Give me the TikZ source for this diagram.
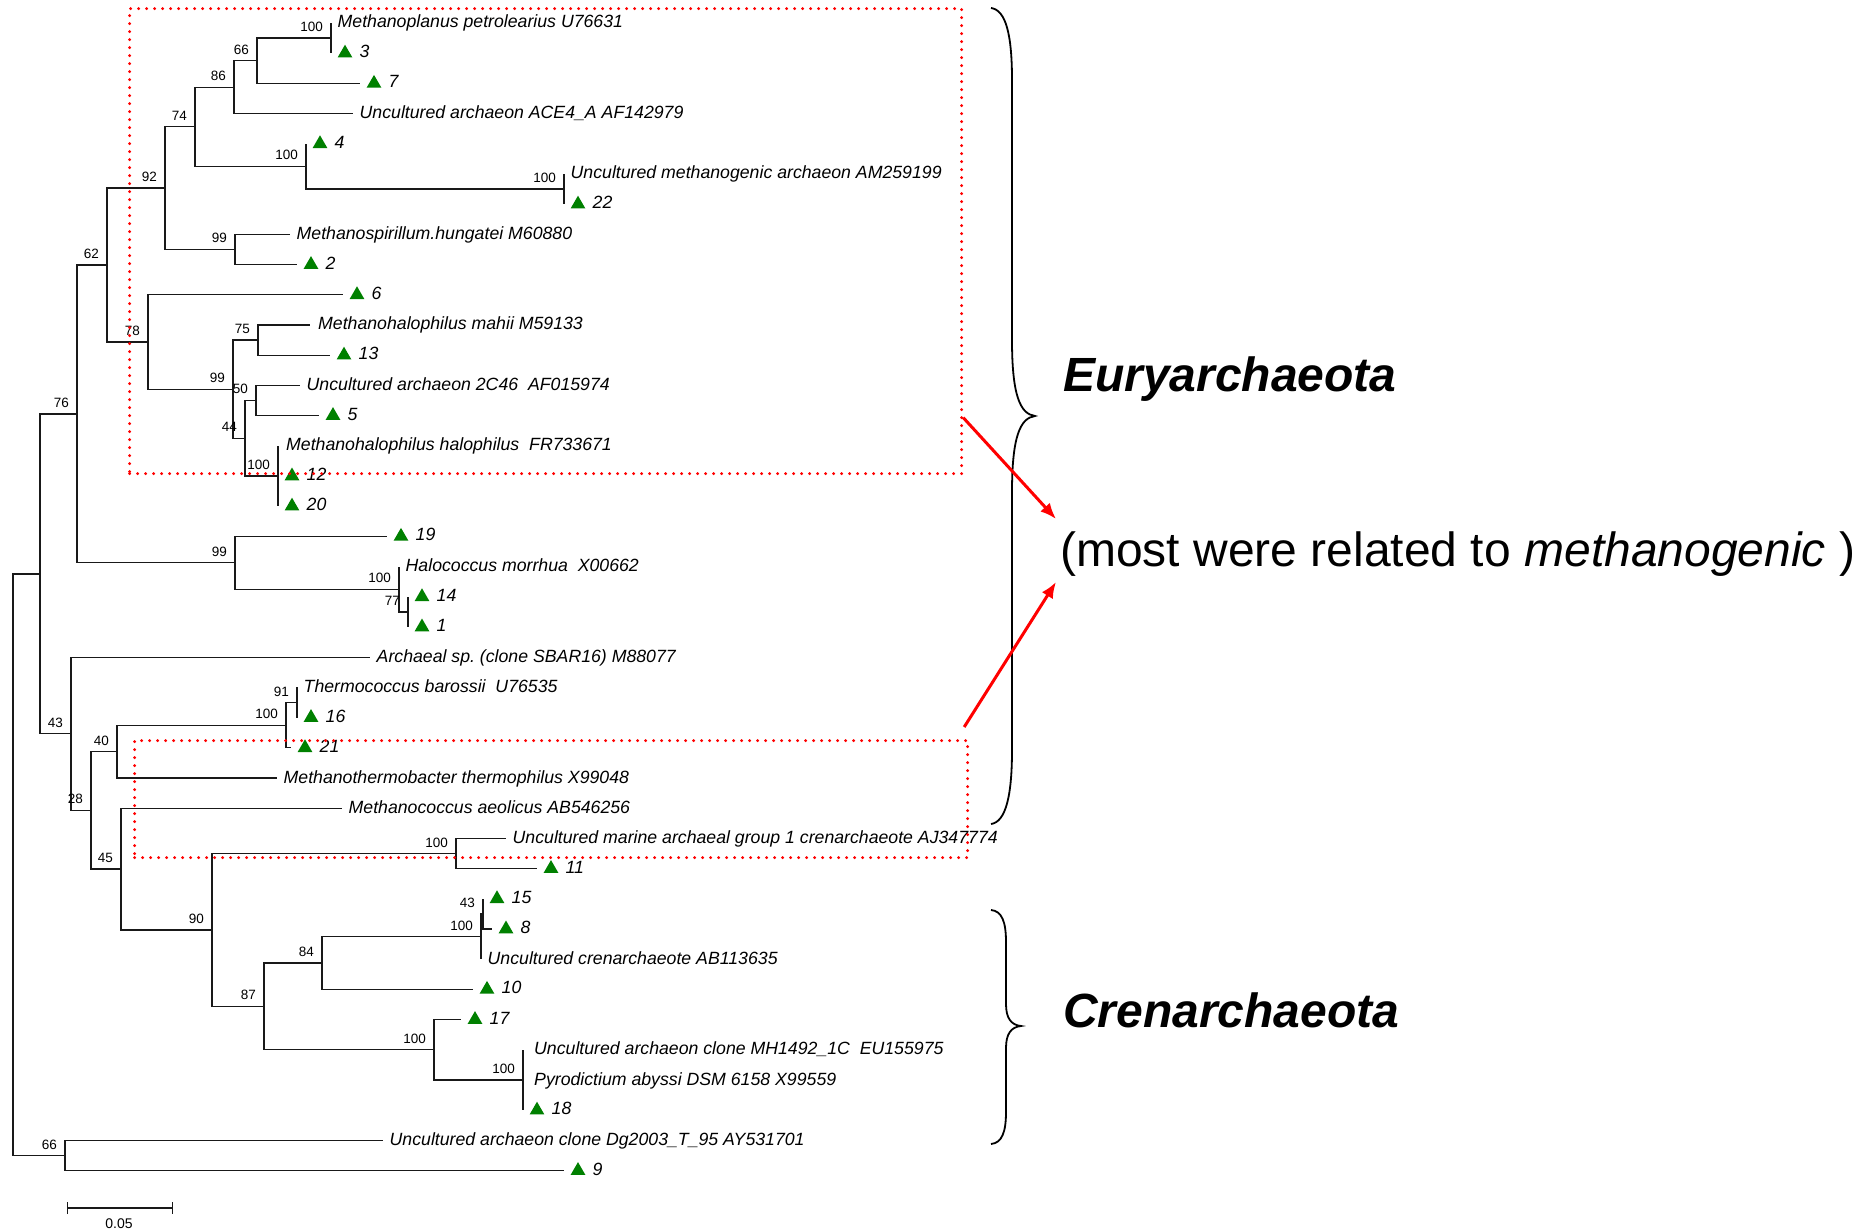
\documentclass[tikz,border=0pt]{standalone}
\usepackage{fontspec}
\setmainfont{Liberation Sans}
\usetikzlibrary{arrows.meta,shapes.geometric}
\definecolor{trigreen}{RGB}{0,128,0}
\definecolor{boxred}{RGB}{255,0,0}
\frenchspacing
\newcommand\fsleaf{\fontsize{17.7}{20}\selectfont}
\newcommand\fsboot{\fontsize{13.5}{15}\selectfont}
\newcommand\fsbig{\fontsize{48}{56}\selectfont}
\begin{document}
\begin{tikzpicture}[x=1pt,y=-1pt,
  br/.style={line width=1.3pt, black!90},
  bs/.style={anchor=base east, inner sep=0pt, xshift=-8pt, yshift=6.5pt, font=\fsboot},
  tl/.style={anchor=base west, inner sep=0pt, xshift=6.5pt, yshift=-5pt, font=\fsleaf\itshape},
  tri/.style={regular polygon, regular polygon sides=3, minimum size=17pt, inner sep=0pt, fill=trigreen, xshift=14pt},
  tnum/.style={anchor=base west, inner sep=0pt, xshift=28.5pt, yshift=-4.5pt, font=\fsleaf\itshape},
  redbox/.style={draw=boxred, line width=3.2pt, dash pattern=on 0pt off 8pt, line cap=round, inner sep=0pt, anchor=north west},
  redarrow/.style={draw=boxred, line width=3pt, -{Latex[length=16pt,width=13pt]}},
  brace/.style={line width=1.8pt, black},
  big/.style={anchor=base west, inner sep=0pt, font=\fsbig}]
\fill[white] (0,0) rectangle (1872,1230);
\useasboundingbox (0,0) rectangle (1872,1230);

% leaf ends
\foreach \i/\x in {1/331,2/331,3/360,4/353,5/306,6/564,7/564,8/290,9/297,10/343,
  11/310,12/330,13/300,14/319,15/278,16/278,17/278,18/387,19/399,20/408,21/408,
  22/370,23/297,24/297,25/291,26/277,27/342,28/506,29/537,30/483,31/492,32/481,
  33/473,34/461,35/523,36/523,37/523,38/383,39/564}
  \coordinate (L\i) at (\x,{23+30.2*(\i-1)});

% internal nodes
\coordinate (n100)   at (331,38.1);
\coordinate (n66)    at (257,60.75);
\coordinate (n86)    at (234,87.2);
\coordinate (n100AM) at (564,189.1);
\coordinate (n100b)  at (306,166.45);
\coordinate (n74)    at (195,126.8);
\coordinate (n99a)   at (235,249.5);
\coordinate (n92)    at (165,188.15);
\coordinate (n75)    at (258,340.1);
\coordinate (n50)    at (256,400.5);
\coordinate (n100c)  at (278,476);
\coordinate (n44)    at (245,438.25);
\coordinate (n99b)   at (233,389.2);
\coordinate (n78)    at (148,342);
\coordinate (n62)    at (107,265.1);
\coordinate (n77)    at (408,611.9);
\coordinate (n100d)  at (399,589.25);
\coordinate (n99c)   at (235,562.8);
\coordinate (n76)    at (77,413.95);
\coordinate (n91)    at (297,702.5);
\coordinate (n100e)  at (286,725.15);
\coordinate (n40)    at (117,751.6);
\coordinate (n100f)  at (456,853.5);
\coordinate (n43b)   at (483,913.9);
\coordinate (n100g)  at (481,936.55);
\coordinate (n84)    at (322,962.97);
\coordinate (n100i)  at (523,1080);
\coordinate (n100h)  at (434,1049.8);
\coordinate (n87)    at (264,1006.4);
\coordinate (n90)    at (212,929.95);
\coordinate (n45)    at (121,869.1);
\coordinate (n28)    at (91,810.35);
\coordinate (n43)    at (71,733.8);
\coordinate (nX)     at (40,573.9);
\coordinate (n66b)   at (65,1155.5);
\coordinate (root)   at (13,864.7);

% branches
\foreach \p/\c in {root/nX, root/n66b, nX/n76, nX/n43, n76/n62, n76/n99c,
  n62/n92, n62/n78, n92/n74, n92/n99a, n74/n86, n74/n100b, n86/n66, n86/L4,
  n66/n100, n66/L3, n100/L1, n100/L2, n100b/L5, n100b/n100AM, n100AM/L6, n100AM/L7,
  n99a/L8, n99a/L9, n78/L10, n78/n99b, n99b/n75, n99b/n44, n75/L11, n75/L12,
  n44/n50, n44/n100c, n50/L13, n50/L14, n100c/L15, n100c/L16, n100c/L17,
  n99c/L18, n99c/n100d, n100d/L19, n100d/n77, n77/L20, n77/L21,
  n43/L22, n43/n28, n28/n40, n28/n45, n40/n100e, n40/L26, n100e/n91, n100e/L25,
  n91/L23, n91/L24, n45/L27, n45/n90, n90/n100f, n90/n87, n100f/L28, n100f/L29,
  n87/n84, n87/n100h, n84/n100g, n84/L33, n100g/n43b, n100g/L32, n43b/L30, n43b/L31,
  n100h/L34, n100h/n100i, n100i/L35, n100i/L36, n100i/L37, n66b/L38, n66b/L39}
  \draw[br] (\p) |- (\c);

% bootstrap values
\foreach \n/\v in {n100/100, n66/66, n86/86, n74/74, n100b/100, n100AM/100, n92/92,
  n99a/99, n62/62, n78/78, n76/76, n99b/99, n75/75, n50/50, n44/44, n100c/100,
  n99c/99, n100d/100, n77/77, n43/43, n28/28, n40/40, n100e/100, n91/91, n45/45,
  n90/90, n100f/100, n87/87, n84/84, n100g/100, n43b/43, n100h/100, n100i/100, n66b/66}
  \node[bs] (b\n) at (\n) {\v};

% text leaves
\node[tl] (t1)  at (L1)  {Methanoplanus petrolearius U76631};
\node[tl] (t4)  at (L4)  {Uncultured archaeon ACE4\_A AF142979};
\node[tl] (t6)  at (L6)  {Uncultured methanogenic archaeon AM259199};
\node[tl] (t8)  at (L8)  {Methanospirillum.hungatei M60880};
\node[tl,xshift=1.5pt] (t11) at (L11) {Methanohalophilus mahii M59133};
\node[tl] (t13) at (L13) {Uncultured archaeon 2C46\ \ AF015974};
\node[tl,xshift=1.5pt] (t15) at (L15) {Methanohalophilus halophilus\ \ FR733671};
\node[tl] (t19) at (L19) {Halococcus morrhua\ \ X00662};
\node[tl] (t22) at (L22) {Archaeal sp. (clone SBAR16) M88077};
\node[tl] (t23) at (L23) {Thermococcus barossii\ \ U76535};
\node[tl] (t26) at (L26) {Methanothermobacter thermophilus X99048};
\node[tl] (t27) at (L27) {Methanococcus aeolicus AB546256};
\node[tl] (t28) at (L28) {Uncultured marine archaeal group 1 crenarchaeote AJ347774};
\node[tl] (t32) at (L32) {Uncultured crenarchaeote AB113635};
\node[tl,xshift=4.5pt] (t35) at (L35) {Uncultured archaeon clone MH1492\_1C\ \ EU155975};
\node[tl,xshift=4.5pt] (t36) at (L36) {Pyrodictium abyssi DSM 6158 X99559};
\node[tl] (t38) at (L38) {Uncultured archaeon clone Dg2003\_T\_95 AY531701};

% triangle leaves
\foreach \i/\v in {2/3, 3/7, 5/4, 7/22, 9/2, 10/6, 12/13, 14/5, 16/12, 17/20, 18/19,
  20/14, 21/1, 24/16, 25/21, 29/11, 30/15, 31/8, 33/10, 34/17, 37/18, 39/9}
  {\node[tri] (m\i) at (L\i) {};
   \node[tnum] (d\i) at (L\i) {\v};}

% scale bar
\coordinate (sb1) at (67,1208);
\coordinate (sb2) at (173,1208);
\draw[br, {Bar[width=12pt]}-{Bar[width=12pt]}] (sb1) -- (sb2);
\node[anchor=base, inner sep=0pt, font=\fontsize{14}{16}\selectfont] (sbl) at (119,1228) {0.05};

% red dotted boxes
\node[redbox, minimum width=832pt, minimum height=465pt] (box1) at (128,7) {};
\node[redbox, minimum width=833pt, minimum height=117pt] (box2) at (133,739) {};

% braces
\draw[brace] (991,8) .. controls (1006,10) and (1012,35) .. (1012,80) -- (1012,340)
  .. controls (1012,395) and (1020,414) .. (1035,416)
  .. controls (1020,418) and (1012,437) .. (1012,492) -- (1012,750)
  .. controls (1012,795) and (1006,822) .. (991,824);
\draw[brace] (991,910) .. controls (1002,911) and (1006,922) .. (1006,942) -- (1006,1004)
  .. controls (1006,1018) and (1011,1025) .. (1021,1026)
  .. controls (1011,1027) and (1006,1034) .. (1006,1048) -- (1006,1112)
  .. controls (1006,1132) and (1002,1143) .. (991,1144);

% labels
\node[big, font=\fsbig\bfseries\itshape] (eury) at (1063,392) {Euryarchaeota};
\node[big, font=\fsbig\bfseries\itshape] (cren) at (1063,1027) {Crenarchaeota};
\node[big] (meth) at (1060,566) {(most were related to \textit{methanogenic} )};

% arrows
\coordinate (a1) at (1056,519);
\coordinate (a2) at (1056,582);
\draw[redarrow] ([yshift=-176.5pt]box1.east) -- (a1);
\draw[redarrow] ([xshift=-5pt,yshift=12pt]box2.north east) -- (a2);
\end{tikzpicture}
\end{document}
